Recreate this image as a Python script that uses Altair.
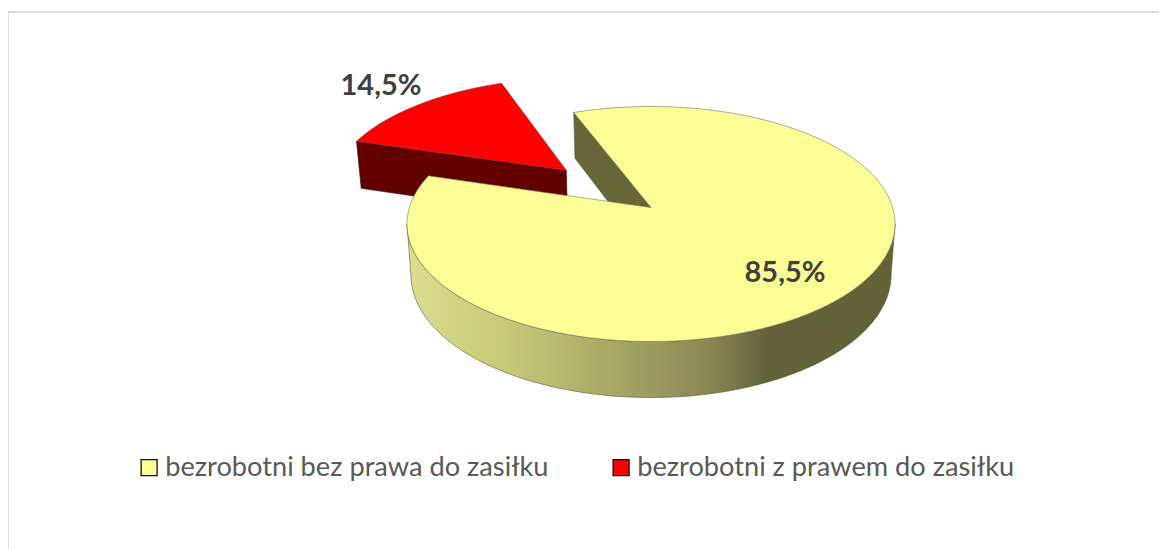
import math
import altair as alt
import pandas as pd

CATEGORIES = ["bezrobotni bez prawa do zasiłku", "bezrobotni z prawem do zasiłku"]
SHARES = [85.5, 14.5]
LABELS = ["85,5%", "14,5%"]
COLORS = ["#FDFD96", "#FF0000"]
FIRST_ANGLE = 338.8  # clockwise from the back of the pie, degrees

# 3D projection of the pie, expressed in picture pixels
CX, CY, A, B, P, DEPTH, SHRINK = 651, 207.5, 241.6, 115.2, 0.1404, 50, 0.984
EXPLODE = 0.50


def project(u, v, bottom=False):
    s = 1 + P * v
    if bottom:
        return CX + SHRINK * A * u / s, CY + (DEPTH - SHRINK * B * v) / s
    return CX + A * u / s, CY - B * v / s


def rim(a0, a1, n, cu=0.0, cv=0.0, bottom=False):
    pts = []
    for i in range(n + 1):
        t = math.radians(a0 + (a1 - a0) * i / n)
        pts.append(project(cu + math.sin(t), cv + math.cos(t), bottom))
    return pts


def poly(points, **mark):
    df = pd.DataFrame(points, columns=["x", "y"])
    df["i"] = range(len(df))
    return alt.Chart(df).mark_line(interpolate="linear", **mark).encode(
        x=alt.X("x:Q", scale=X, axis=None),
        y=alt.Y("y:Q", scale=Y, axis=None),
        order="i:Q",
    )


X = alt.Scale(domain=[8, 1159])
Y = alt.Scale(domain=[549, 8])

yellow_span = SHARES[0] * 3.6
a_start = FIRST_ANGLE
a_end = FIRST_ANGLE + yellow_span - 360
red_mid = a_end + SHARES[1] * 1.8
cu, cv = EXPLODE * math.sin(math.radians(red_mid)), EXPLODE * math.cos(math.radians(red_mid))

EDGE = dict(stroke="#55553a", strokeWidth=0.6)

# red slice
red_front = rim(a_end, a_end, 1, cu, cv)[:1]
red_apex = project(cu, cv)
red_apex_b = project(cu, cv, True)
red_left_b = rim(a_end, a_end, 1, cu, cv, True)[:1]
red_wall = poly(red_front + [red_apex, red_apex_b] + red_left_b + red_front,
                fill="#620000", stroke="#3a0000", strokeWidth=0.6)
red_top_pts = [red_apex] + rim(a_end, a_start, 40, cu, cv) + [red_apex]
red_top = poly(red_top_pts, fill=COLORS[1], stroke="#8a3a3a", strokeWidth=0.6)

# inner wall of the yellow slice
start_t = rim(a_start, a_start, 1)[:1]
start_b = rim(a_start, a_start, 1, bottom=True)[:1]
apex = project(0, 0)
apex_b = project(0, 0, True)
inner = poly(start_t + [apex, apex_b] + start_b + start_t, fill="#666639", **EDGE)

# front wall, between the two tangent points of the rim
front_t = rim(262, 98, 120)
front_b = rim(262, 98, 120, bottom=True)
GRAD = alt.Gradient(
    gradient="linear", x1=0, x2=1, y1=0, y2=0,
    stops=[
        alt.GradientStop(color="#DCDC8E", offset=0.0),
        alt.GradientStop(color="#C9C97A", offset=0.2),
        alt.GradientStop(color="#A3A364", offset=0.45),
        alt.GradientStop(color="#8A8754", offset=0.62),
        alt.GradientStop(color="#62623A", offset=0.74),
        alt.GradientStop(color="#626239", offset=1.0),
    ],
)
front = poly(front_t + front_b[::-1] + front_t[:1], fill=GRAD, **EDGE)

# yellow top
top_pts = [apex] + rim(a_start, a_start + yellow_span, 240) + [apex]
top = poly(top_pts, fill=COLORS[0], stroke="#77775a", strokeWidth=0.6)

# value labels
lab = pd.DataFrame({"x": [785, 381], "y": [273, 86], "t": LABELS})
labels = alt.Chart(lab).mark_text(
    font="Lato", fontWeight="bold", fontSize=29, color="#404040"
).encode(x=alt.X("x:Q", scale=X, axis=None), y=alt.Y("y:Q", scale=Y, axis=None), text="t:N")

# legend carrier
leg = pd.DataFrame({"c": CATEGORIES, "x": [100, 100], "y": [100, 100]})
legend = alt.Chart(leg).mark_square(size=0, opacity=1).encode(
    x=alt.X("x:Q", scale=X, axis=None),
    y=alt.Y("y:Q", scale=Y, axis=None),
    color=alt.Color(
        "c:N",
        scale=alt.Scale(domain=CATEGORIES, range=COLORS),
        legend=alt.Legend(
            title=None, orient="none", legendX=127.5, legendY=446, direction="horizontal",
            symbolType="square", symbolSize=256, symbolStrokeColor="#111111",
            symbolStrokeWidth=1.3, labelFont="Lato", labelFontSize=27.2,
            labelColor="#595959", labelLimit=500, columnPadding=58, symbolOpacity=1,
            labelOffset=2.5,
        ),
    ),
)

frame_top = alt.Chart(pd.DataFrame({"a": [0]})).mark_rule(color="#DDDDDD", strokeWidth=2).encode(
    x=alt.value(0), x2=alt.value(1151), y=alt.value(4)
)
frame_left = alt.Chart(pd.DataFrame({"a": [0]})).mark_rule(color="#DDDDDD", strokeWidth=2).encode(
    x=alt.value(0), y=alt.value(4), y2=alt.value(541)
)

chart = alt.layer(
    frame_top, frame_left, red_wall, red_top, inner, front, top, labels, legend
).properties(width=1151, height=541, padding=0, autosize=alt.AutoSizeParams(type="none")
).configure_view(stroke=None)

chart.save("out.html", embed_options={"renderer": "svg", "actions": False})
